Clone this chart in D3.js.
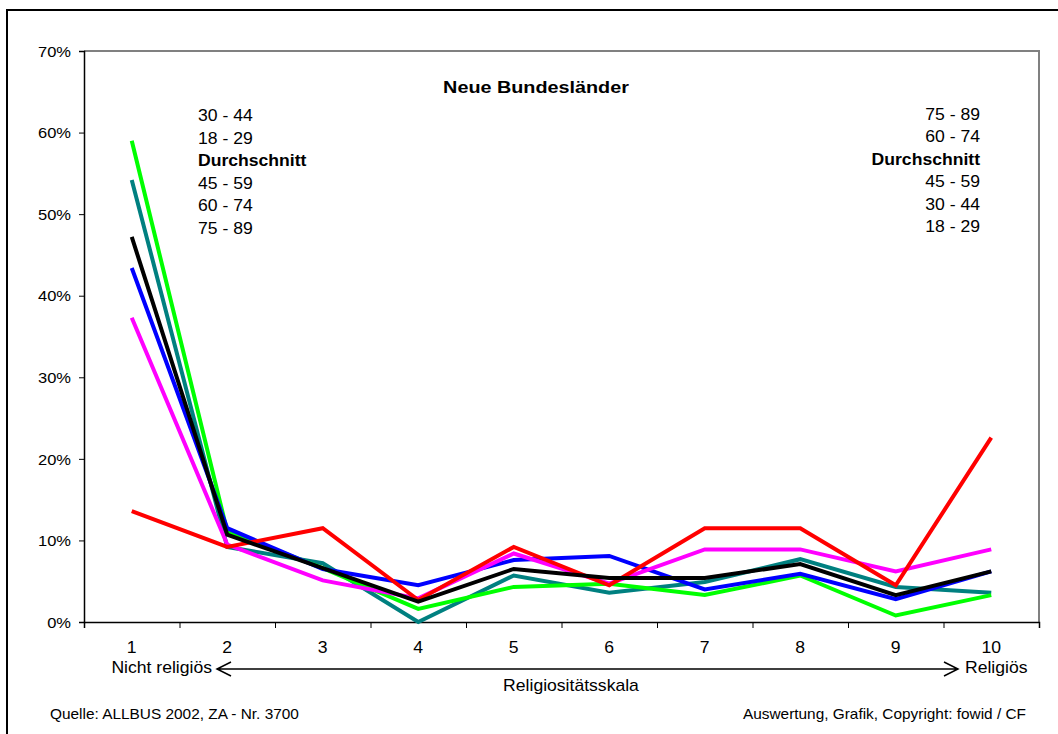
<!DOCTYPE html>
<html>
<head>
<meta charset="utf-8">
<script src="https://cdn.jsdelivr.net/npm/d3@7"></script>
<style>
  html, body { margin: 0; padding: 0; background: #fff; }
  svg { display: block; font-family: "Liberation Sans", Arial, sans-serif; }
</style>
</head>
<body>
<svg id="chart" width="1058" height="734"></svg>
<script>
// ---- data ----
const categories = ["1", "2", "3", "4", "5", "6", "7", "8", "9", "10"];
const yTicks = [0, 0.1, 0.2, 0.3, 0.4, 0.5, 0.6, 0.7];

const seriesNames  = ["18 - 29", "30 - 44", "45 - 59", "60 - 74", "75 - 89", "Durchschnitt"];
const seriesColors = ["#008080", "#00ff00", "#0000ff", "#ff00ff", "#ff0000", "#000000"];
const values1829   = [54.2, 9.2, 7.2, 0.0, 5.7, 3.6, 4.9, 7.7, 4.3, 3.6];
const values3044   = [59.0, 11.1, 6.6, 1.6, 4.3, 4.7, 3.3, 5.7, 0.8, 3.3];
const values4559   = [43.4, 11.5, 6.5, 4.5, 7.6, 8.1, 4.0, 5.9, 2.8, 6.2];
const values6074   = [37.3, 9.5, 5.1, 2.9, 8.4, 4.7, 8.9, 8.9, 6.2, 8.9];
const values7589   = [13.6, 9.2, 11.5, 2.7, 9.2, 4.5, 11.5, 11.5, 4.5, 22.6];
const valuesAvg    = [47.2, 10.7, 6.6, 2.5, 6.5, 5.4, 5.4, 7.1, 3.3, 6.2];
const seriesValues = [values1829, values3044, values4559, values6074, values7589, valuesAvg];

const leftLegend  = ["30 - 44", "18 - 29", "Durchschnitt", "45 - 59", "60 - 74", "75 - 89"];
const rightLegend = ["75 - 89", "60 - 74", "Durchschnitt", "45 - 59", "30 - 44", "18 - 29"];

const titleText  = "Neue Bundesländer";
const axisTitle  = "Religiositätsskala";
const leftEnd    = "Nicht religiös";
const rightEnd   = "Religiös";
const sourceText = "Quelle: ALLBUS 2002, ZA - Nr. 3700";
const creditText = "Auswertung, Grafik, Copyright: fowid / CF";

// ---- layout ----
const svg = d3.select("#chart");
const plot = { left: 84, right: 1039, top: 51, bottom: 622 };
const SX = 1.1; // horizontal text stretch

svg.append("rect").attr("x", 0).attr("y", 0).attr("width", 1058).attr("height", 734).attr("fill", "#fff");
// outer frame
svg.append("rect").attr("x", 7).attr("y", 10).attr("width", 1200).attr("height", 900)
  .attr("fill", "none").attr("stroke", "#000").attr("stroke-width", 2);

const x = d3.scaleBand().domain(categories).range([plot.left, plot.right]).padding(0);
const xEdge = d3.scaleLinear().domain([0, categories.length]).range([plot.left, plot.right]);
const y = d3.scaleLinear().domain([0, 0.7]).range([plot.bottom, plot.top]);

function stretchedText(g, tx, ty, str, opts) {
  const s = opts.sx || SX;
  return g.append("text")
    .attr("transform", `translate(${tx},${ty}) scale(${s},1)`)
    .attr("text-anchor", opts.anchor || "start")
    .attr("font-size", opts.size || 16)
    .attr("font-weight", opts.weight || "normal")
    .attr("fill", "#000")
    .text(str);
}

// plot frame (gray top/right)
svg.append("path")
  .attr("d", `M${plot.left},${plot.top}H${plot.right}V${plot.bottom}`)
  .attr("fill", "none").attr("stroke", "#808080").attr("stroke-width", 2);

// y axis
const yAxis = svg.append("g").attr("transform", `translate(${plot.left},0)`)
  .call(d3.axisLeft(y).tickValues(yTicks).tickFormat(d3.format(".0%")).tickSize(5).tickPadding(8));
yAxis.select(".domain").attr("stroke", "#000").attr("stroke-width", 1.5);
yAxis.selectAll(".tick line").attr("stroke", "#000");
yAxis.selectAll(".tick text")
  .attr("font-size", 15).attr("font-family", "Liberation Sans, Arial, sans-serif").attr("fill", "#000")
  .attr("x", null).attr("dy", "0.35em")
  .attr("transform", `translate(-13,0) scale(${SX},1)`);

// x axis edges (ticks at category boundaries)
const xAxisEdges = svg.append("g").attr("transform", `translate(0,${plot.bottom})`)
  .call(d3.axisBottom(xEdge).tickValues(d3.range(0, categories.length + 1)).tickFormat("").tickSize(6));
xAxisEdges.select(".domain").attr("stroke", "#000").attr("stroke-width", 1.5);
xAxisEdges.selectAll(".tick line").attr("stroke", "#000");

// x axis labels
const xAxisLabels = svg.append("g").attr("transform", `translate(0,${plot.bottom})`)
  .call(d3.axisBottom(x).tickSize(0).tickPadding(0));
xAxisLabels.select(".domain").remove();
xAxisLabels.selectAll(".tick text")
  .attr("font-size", 16).attr("font-family", "Liberation Sans, Arial, sans-serif").attr("fill", "#000")
  .attr("y", null).attr("dy", null)
  .attr("transform", `translate(0,31) scale(${SX},1)`);

// lines
const line = d3.line()
  .x((d, i) => x(categories[i]) + x.bandwidth() / 2)
  .y(d => y(d / 100));

svg.append("g").selectAll("path")
  .data(seriesValues)
  .join("path")
  .attr("d", d => line(d))
  .attr("fill", "none")
  .attr("stroke", (d, i) => seriesColors[i])
  .attr("stroke-width", 4)
  .attr("stroke-linejoin", "miter")
  .attr("stroke-linecap", "butt");

// title
stretchedText(svg, 536, 93, titleText, { size: 17, weight: "bold", anchor: "middle", sx: 1.165 });

// legends
leftLegend.forEach((t, i) => {
  stretchedText(svg, 198, 121 + i * 22.5, t, { size: 16, weight: t === "Durchschnitt" ? "bold" : "normal" });
});
rightLegend.forEach((t, i) => {
  stretchedText(svg, 980, 119.5 + i * 22.5, t, { size: 16, anchor: "end", weight: t === "Durchschnitt" ? "bold" : "normal" });
});

// scale arrow
const arrowY = 669;
const aL = 217, aR = 958;
svg.append("path")
  .attr("d", `M${aL},${arrowY}H${aR}M${aL + 14},${arrowY - 7}L${aL},${arrowY}L${aL + 14},${arrowY + 7}M${aR - 14},${arrowY - 7}L${aR},${arrowY}L${aR - 14},${arrowY + 7}`)
  .attr("fill", "none").attr("stroke", "#000").attr("stroke-width", 1.5);

stretchedText(svg, 212, 673, leftEnd, { size: 16, anchor: "end" });
stretchedText(svg, 965, 673, rightEnd, { size: 16 });
stretchedText(svg, 571, 691, axisTitle, { size: 16, anchor: "middle" });

// footer
stretchedText(svg, 50, 719, sourceText, { size: 14 });
stretchedText(svg, 1026, 719, creditText, { size: 14, anchor: "end" });
</script>
</body>
</html>
